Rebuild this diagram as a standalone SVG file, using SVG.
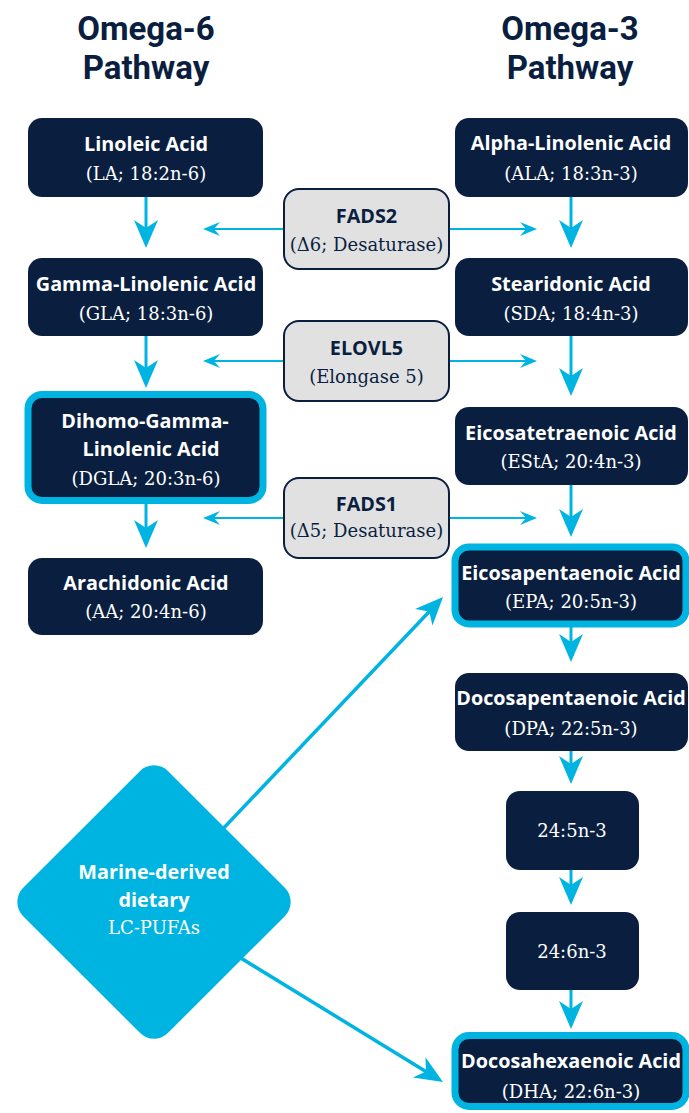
<svg xmlns="http://www.w3.org/2000/svg" width="689" height="1113" viewBox="0 0 689 1113">
<style>
.hd{font-family:Roboto,"Open Sans",sans-serif;font-weight:700;font-size:33px;fill:#0a1f3f;text-anchor:middle}
.node{fill:#0a1f3f}
.hi{fill:#0a1f3f;stroke:#00b4e1;stroke-width:7}
.enz{fill:#e1e1e1;stroke:#0a1f3f;stroke-width:2}
.t{font-family:"Open Sans",sans-serif;font-weight:700;font-size:19.8px;fill:#fff;text-anchor:middle}
.s{font-family:"DejaVu Serif",serif;font-size:18px;fill:#fff;text-anchor:middle}
.et{font-family:"Open Sans",sans-serif;font-weight:700;font-size:19.8px;fill:#0a1f3f;text-anchor:middle}
.es{font-family:"DejaVu Serif",serif;font-size:18px;fill:#0a1f3f;text-anchor:middle}
.v{stroke:#00b4e1;stroke-width:3;fill:none;marker-end:url(#ah)}
.h{stroke:#00b4e1;stroke-width:2;fill:none;marker-end:url(#ahs)}
.d{stroke:#00b4e1;stroke-width:3.5;fill:none;marker-end:url(#ah)}
</style>
<defs>
<marker id="ah" markerUnits="userSpaceOnUse" markerWidth="50" markerHeight="40" viewBox="-20 -20 40 40" refX="0" refY="0" orient="auto" overflow="visible">
<path d="M14,0 L-14,-12 L-6,0 L-14,12 Z" fill="#00b4e1"/>
</marker>
<marker id="ahs" markerUnits="userSpaceOnUse" markerWidth="40" markerHeight="30" viewBox="-15 -15 30 30" refX="0" refY="0" orient="auto" overflow="visible">
<path d="M10,0 L-7,-7 L-1,0 L-7,7 Z" fill="#00b4e1"/>
</marker>
</defs>

<g id="headers">
<text class="hd" x="146" y="40">Omega-6</text>
<text class="hd" x="146" y="79">Pathway</text>
<text class="hd" x="570" y="40">Omega-3</text>
<text class="hd" x="570" y="79">Pathway</text>
</g>

<g id="connectors">
<line class="v" x1="146" y1="197" x2="146" y2="234"/>
<line class="v" x1="146" y1="336" x2="146" y2="374"/>
<line class="v" x1="146" y1="504" x2="146" y2="534"/>
<line class="v" x1="571" y1="197" x2="571" y2="234"/>
<line class="v" x1="571" y1="336" x2="571" y2="382"/>
<line class="v" x1="571" y1="485" x2="571" y2="523"/>
<line class="v" x1="571" y1="627" x2="571" y2="648"/>
<line class="v" x1="571" y1="751" x2="571" y2="770"/>
<line class="v" x1="571" y1="870" x2="571" y2="891"/>
<line class="v" x1="571" y1="990" x2="571" y2="1015"/>
<line class="h" x1="284" y1="229" x2="213" y2="229"/>
<line class="h" x1="449" y1="229" x2="527" y2="229"/>
<line class="h" x1="284" y1="361" x2="213" y2="361"/>
<line class="h" x1="449" y1="361" x2="527" y2="361"/>
<line class="h" x1="284" y1="518" x2="213" y2="518"/>
<line class="h" x1="449" y1="518" x2="527" y2="518"/>
<line class="d" x1="200" y1="853" x2="433.4" y2="607.2"/>
<line class="d" x1="200" y1="933" x2="431.1" y2="1074.7"/>
</g>

<g id="LA">
<rect class="node" x="28" y="118" width="235" height="79" rx="14"/>
<text class="t" x="146" y="151">Linoleic Acid</text>
<text class="s" x="146" y="180">(LA; 18:2n-6)</text>
</g>
<g id="GLA">
<rect class="node" x="28" y="258" width="235" height="78" rx="14"/>
<text class="t" x="146" y="291">Gamma-Linolenic Acid</text>
<text class="s" x="146" y="320">(GLA; 18:3n-6)</text>
</g>
<g id="DGLA">
<rect class="hi" x="28" y="394.5" width="235" height="106" rx="14"/>
<text class="t" x="145" y="428">Dihomo-Gamma-</text>
<text class="t" x="151" y="456">Linolenic Acid</text>
<text class="s" x="146" y="485">(DGLA; 20:3n-6)</text>
</g>
<g id="AA">
<rect class="node" x="28" y="558" width="235" height="77" rx="14"/>
<text class="t" x="146" y="590">Arachidonic Acid</text>
<text class="s" x="146" y="618">(AA; 20:4n-6)</text>
</g>

<g id="ALA">
<rect class="node" x="455" y="118" width="233" height="79" rx="14"/>
<text class="t" x="571" y="150">Alpha-Linolenic Acid</text>
<text class="s" x="571" y="180">(ALA; 18:3n-3)</text>
</g>
<g id="SDA">
<rect class="node" x="455" y="258" width="233" height="78" rx="14"/>
<text class="t" x="571" y="291">Stearidonic Acid</text>
<text class="s" x="571" y="320">(SDA; 18:4n-3)</text>
</g>
<g id="EStA">
<rect class="node" x="455" y="407" width="233" height="78" rx="14"/>
<text class="t" x="571" y="440">Eicosatetraenoic Acid</text>
<text class="s" x="571" y="468">(EStA; 20:4n-3)</text>
</g>
<g id="EPA">
<rect class="hi" x="455" y="547" width="231" height="77" rx="14"/>
<text class="t" x="571" y="580">Eicosapentaenoic Acid</text>
<text class="s" x="571" y="608">(EPA; 20:5n-3)</text>
</g>
<g id="DPA">
<rect class="node" x="455" y="673" width="233" height="78" rx="14"/>
<text class="t" x="571" y="705">Docosapentaenoic Acid</text>
<text class="s" x="571" y="735">(DPA; 22:5n-3)</text>
</g>
<g id="C24_5">
<rect class="node" x="506" y="791" width="133" height="79" rx="14"/>
<text class="s" x="572" y="837">24:5n-3</text>
</g>
<g id="C24_6">
<rect class="node" x="506" y="912" width="133" height="78" rx="14"/>
<text class="s" x="572" y="958">24:6n-3</text>
</g>
<g id="DHA">
<rect class="hi" x="455" y="1035.5" width="231" height="71" rx="14"/>
<text class="t" x="571" y="1068">Docosahexaenoic Acid</text>
<text class="s" x="571" y="1098">(DHA; 22:6n-3)</text>
</g>

<g id="FADS2">
<rect class="enz" x="284" y="189" width="165" height="80" rx="15"/>
<text class="et" x="366.5" y="223">FADS2</text>
<text class="es" x="366.5" y="251">(Δ6; Desaturase)</text>
</g>
<g id="ELOVL5">
<rect class="enz" x="284" y="321" width="165" height="80" rx="15"/>
<text class="et" x="366.5" y="355">ELOVL5</text>
<text class="es" x="366.5" y="383">(Elongase 5)</text>
</g>
<g id="FADS1">
<rect class="enz" x="284" y="478" width="165" height="80" rx="15"/>
<text class="et" x="366.5" y="511">FADS1</text>
<text class="es" x="366.5" y="537">(Δ5; Desaturase)</text>
</g>

<g id="marine">
<rect x="-102.5" y="-102.5" width="205" height="205" rx="20" fill="#00b4e1" transform="translate(154,902) rotate(45)"/>
<text class="t" x="154" y="879">Marine-derived</text>
<text class="t" x="154" y="907">dietary</text>
<text class="s" x="154" y="934">LC-PUFAs</text>
</g>
</svg>
